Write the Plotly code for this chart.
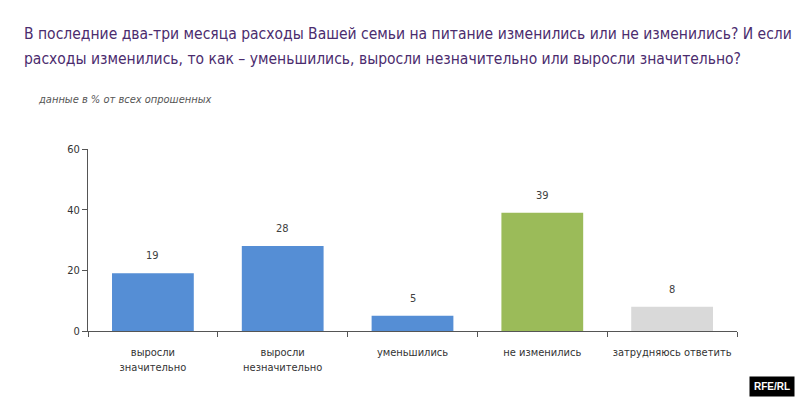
import plotly.graph_objects as go

categories = ["выросли<br>значительно", "выросли<br>незначительно", "уменьшились", "не изменились", "затрудняюсь ответить"]
values = [19, 28, 5, 39, 8]
bar_colors = ["#558ED5", "#558ED5", "#558ED5", "#9BBB59", "#D9D9D9"]
y_ticks = [0, 20, 40, 60]

title_lines = ["В последние два-три месяца расходы Вашей семьи на питание изменились или не изменились? И если",
               "расходы изменились, то как – уменьшились, выросли незначительно или выросли значительно?"]
subtitle_text = "данные в % от всех опрошенных"

FONT = "DejaVu Sans Condensed, Liberation Sans Narrow, Arial Narrow, sans-serif"

W, H = 800, 397
L, R, T, B = 88, 63, 149, 66
PW, PH = W - L - R, H - T - B


def px(x):
    return (x - L) / PW


def py(y):
    return (H - B - y) / PH


fig = go.Figure(go.Bar(x=categories, y=values, marker=dict(color=bar_colors, line=dict(width=0)), width=0.63))

for c, v in zip(categories, values):
    fig.add_annotation(x=c, y=v, text=str(v), showarrow=False, yanchor="bottom", yshift=9,
                       font=dict(size=11, color="#404040", family=FONT))

for line, yc in zip(title_lines, [34, 59]):
    fig.add_annotation(xref="paper", yref="paper", x=px(22), y=py(yc), xanchor="left", yanchor="middle",
                       text=line, showarrow=False,
                       font=dict(size=15.5, color="#4B2C6E", family=FONT))
fig.add_annotation(xref="paper", yref="paper", x=px(36), y=py(99), xanchor="left", yanchor="middle",
                   text="<i>" + subtitle_text + "</i>", showarrow=False,
                   font=dict(size=11, color="#555555", family=FONT))
fig.add_annotation(xref="paper", yref="paper", x=px(795), y=py(386), xanchor="right", yanchor="middle",
                   text="<b>RFE/RL</b>", showarrow=False, bgcolor="#000000", borderpad=4,
                   font=dict(size=10, color="#ffffff", family="Liberation Sans, Arial, sans-serif"))

fig.update_layout(
    width=W, height=H,
    margin=dict(l=L, r=R, t=T, b=B, autoexpand=False),
    paper_bgcolor="white", plot_bgcolor="white",
    showlegend=False,
    font=dict(family=FONT, color="#333333"),
    xaxis=dict(showline=True, linecolor="#555555", linewidth=1, ticks="outside", tickson="boundaries",
               ticklen=5, tickcolor="#555555", tickfont=dict(size=11, color="#333333"), showgrid=False,
               tickangle=0, automargin=False, ticklabelstandoff=11),
    yaxis=dict(range=[0, 60], tickvals=y_ticks, showline=True, linecolor="#555555", linewidth=1,
               ticks="outside", ticklen=5, tickcolor="#555555", showgrid=False, zeroline=False,
               tickfont=dict(size=11, color="#333333"), automargin=False),
)

fig.write_html("out.html", config={"displayModeBar": False},
               post_script="document.body.style.margin='0';document.body.style.overflow='hidden';")
